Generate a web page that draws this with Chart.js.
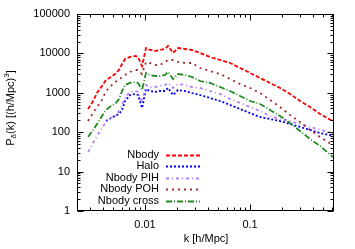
<!DOCTYPE html>
<html>
<head>
<meta charset="utf-8">
<script src="https://cdn.jsdelivr.net/npm/chart.js@4.4.1/dist/chart.umd.min.js"></script>
<style>
  html, body { margin: 0; padding: 0; background: #fff; }
</style>
</head>
<body>
<canvas id="powerChart" width="355" height="249"></canvas>
<script>
// k bins [h/Mpc]
const kValues = [0.00287, 0.00320, 0.00349, 0.00389, 0.00425, 0.00474, 0.00518, 0.00565, 0.00604, 0.00645,
  0.00720, 0.00803, 0.00858, 0.00936, 0.01022, 0.01116, 0.01245, 0.01389, 0.01550, 0.01656,
  0.01848, 0.02062, 0.02404, 0.02804, 0.03342, 0.04159, 0.05179, 0.06451, 0.08035, 0.1,
  0.1245, 0.1550, 0.1931, 0.2404, 0.2993, 0.3727, 0.4642, 0.631];

// P(k)
const nbody = [388, 619, 988, 1489, 2113, 2518, 3000, 3791, 5385, 7211,
  8110, 8590, 8110, 4790, 13710, 12200, 11510, 12200, 12940, 15410,
  10240, 13710, 12940, 12200, 10240, 8110, 6800, 5705, 4260, 3183,
  2376, 1774, 1324, 933, 619, 436, 290, 181];
const halo = [null, null, null, null, 192, 229, 258, 290, 366, 619,
  879, 933, 879, 411, 1248, 1111, 1048, 1111, 1111, 1324,
  879, 1178, 1111, 988, 879, 738, 619, 490, 388, 307,
  243, 216, 192, 161, 136, 114, 95.4, 80.1];
const nbodyPIH = [31.4, 53.2, 80.1, 128, 181, 229, 258, 345, 490, 782,
  1048, 1111, 1048, 584, 1578, 1403, 1403, 1489, 1578, 1774,
  1324, 1672, 1578, 1403, 1324, 1111, 933, 696, 551, 436,
  345, 258, 216, 192, 161, 136, 114, 95.4];
const nbodyPOH = [192, 307, 436, 657, 1111, 1489, 1880, 2113, 2518, 2831,
  3373, 3791, 3791, 3000, 6050, 5705, 5080, 5080, 6050, 6800,
  6800, 6050, 5705, 5705, 4260, 3575, 3000, 2240, 1672, 1324,
  988, 657, 436, 273, 181, 114, 75.5, 44.7];
const nbodyCross = [75.5, 114, 161, 258, 366, 462, 520, 696, 1111, 1578,
  1774, 1880, 1774, 1178, 3183, 2831, 2670, 2670, 2831, 3373,
  2240, 3000, 2831, 2518, 1992, 1774, 1403, 1111, 829, 619,
  520, 366, 258, 171, 107, 67.2, 44.7, 22.1];

const seriesNames = ['Nbody', 'Halo', 'Nbody PIH', 'Nbody POH', 'Nbody cross'];
const yTickLabels = [1, 10, 100, 1000, 10000, 100000];
const xTickLabels = [0.01, 0.1];

const FONT = 'Liberation Sans, Arial, sans-serif';

// line looks, gnuplot style
const styles = [
  { color: '#ff0000', dash: [4, 2] },
  { color: '#0000ff', dash: [2, 2] },
  { color: '#b080f8', dash: [3, 3, 1, 3] },
  { color: '#a52a2a', dash: [2, 4] },
  { color: '#228b22', dash: [6, 2, 1, 2] }
];

function toPoints(values) {
  return kValues.map((k, i) => ({ x: k, y: values[i] }));
}

const seriesValues = [nbody, halo, nbodyPIH, nbodyPOH, nbodyCross];

const datasets = seriesValues.map((vals, i) => ({
  label: seriesNames[i],
  data: toPoints(vals),
  borderColor: styles[i].color,
  borderDash: styles[i].dash,
  borderWidth: 1.8,
  pointRadius: 0,
  tension: 0,
  spanGaps: false,
  order: 5 - i
}));

// decade minor tick values inside a range
function logTicks(min, max) {
  const out = [];
  for (let e = Math.floor(Math.log10(min)); e <= Math.ceil(Math.log10(max)); e++) {
    for (let m = 1; m <= 9; m++) {
      const v = m * Math.pow(10, e);
      if (v >= min * 0.999 && v <= max * 1.001) out.push({ v, major: m === 1 });
    }
  }
  return out;
}

// frame, inward ticks, legend and axis titles
const gnuplotDecor = {
  id: 'gnuplotDecor',
  afterDraw(chart) {
    const ctx = chart.ctx;
    const a = chart.chartArea;
    const xs = chart.scales.x;
    const ys = chart.scales.y;
    ctx.save();
    ctx.strokeStyle = '#000';
    ctx.lineWidth = 1;
    ctx.setLineDash([]);
    const L = Math.round(a.left) + 0.5, R = Math.round(a.right) - 0.5;
    const T = Math.round(a.top) + 0.5, B = Math.round(a.bottom) - 0.5;
    ctx.strokeRect(L, T, R - L, B - T);

    ctx.beginPath();
    logTicks(ys.min, ys.max).forEach(t => {
      const y = Math.round(ys.getPixelForValue(t.v)) + 0.5;
      const len = t.major ? 6 : 3;
      ctx.moveTo(L, y); ctx.lineTo(L + len, y);
      ctx.moveTo(R, y); ctx.lineTo(R - len, y);
    });
    logTicks(xs.min, xs.max).forEach(t => {
      const x = Math.round(xs.getPixelForValue(t.v)) + 0.5;
      const len = t.major ? 6 : 3;
      ctx.moveTo(x, B); ctx.lineTo(x, B - len);
      ctx.moveTo(x, T); ctx.lineTo(x, T + len);
    });
    ctx.stroke();

    // legend
    ctx.font = '11px ' + FONT;
    ctx.fillStyle = '#000';
    ctx.textAlign = 'right';
    ctx.textBaseline = 'middle';
    const rows = [155, 166, 178, 189, 201];
    seriesNames.forEach((name, i) => {
      ctx.fillText(name, 159, rows[i]);
      ctx.beginPath();
      ctx.strokeStyle = styles[i].color;
      ctx.lineWidth = 1.8;
      ctx.setLineDash(styles[i].dash);
      ctx.moveTo(166, rows[i] + 0.5);
      ctx.lineTo(200, rows[i] + 0.5);
      ctx.stroke();
    });
    ctx.setLineDash([]);

    // x title
    ctx.textAlign = 'center';
    ctx.fillText('k [h/Mpc]', 206, 239);

    // y title with sub/superscript
    const parts = [
      { t: 'P', size: 11, dy: 0 },
      { t: '\u03b4', size: 8, dy: 3 },
      { t: '(k) [(h/Mpc)', size: 11, dy: 0 },
      { t: '3', size: 8, dy: -4 },
      { t: ']', size: 11, dy: 0 }
    ];
    let w = 0;
    parts.forEach(p => { ctx.font = p.size + 'px ' + FONT; p.w = ctx.measureText(p.t).width; w += p.w; });
    ctx.translate(11, 108);
    ctx.rotate(-Math.PI / 2);
    ctx.textAlign = 'left';
    let cx = -w / 2;
    parts.forEach(p => {
      ctx.font = p.size + 'px ' + FONT;
      ctx.fillText(p.t, cx, p.dy);
      cx += p.w;
    });
    ctx.restore();
  }
};

const ctx = document.getElementById('powerChart').getContext('2d');
new Chart(ctx, {
  type: 'line',
  data: { datasets },
  options: {
    responsive: false,
    animation: false,
    devicePixelRatio: 1,
    layout: { padding: { left: 0, top: 14, right: 21, bottom: 0 } },
    plugins: { legend: { display: false }, tooltip: { enabled: false } },
    scales: {
      x: {
        type: 'logarithmic',
        min: 0.00225,
        max: 0.63,
        afterBuildTicks: s => { s.ticks = xTickLabels.map(v => ({ value: v })); },
        afterFit: s => { s.height = 38; },
        grid: { display: false, drawTicks: false },
        border: { display: false },
        ticks: {
          autoSkip: false, maxRotation: 0, padding: 7,
          color: '#000', font: { family: FONT, size: 11 },
          callback: v => String(v)
        }
      },
      y: {
        type: 'logarithmic',
        min: 1,
        max: 100000,
        afterBuildTicks: s => { s.ticks = yTickLabels.map(v => ({ value: v })); },
        afterFit: s => { s.width = 77; },
        grid: { display: false, drawTicks: false },
        border: { display: false },
        ticks: {
          autoSkip: false, padding: 7,
          color: '#000', font: { family: FONT, size: 11 },
          callback: v => String(v)
        }
      }
    }
  },
  plugins: [gnuplotDecor]
});
</script>
</body>
</html>
